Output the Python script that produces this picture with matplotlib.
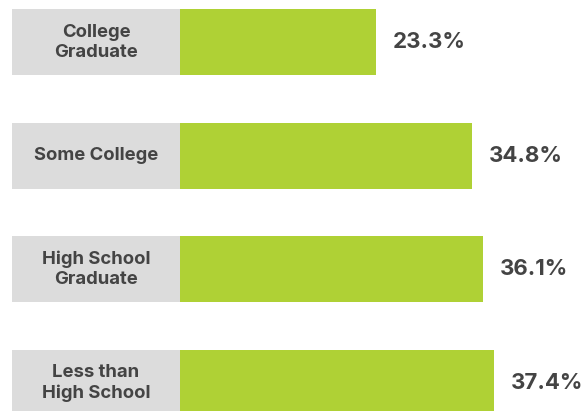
import matplotlib
matplotlib.use("Agg")
import matplotlib.pyplot as plt

# education level vs share
labels = ["College\nGraduate", "Some College", "High School\nGraduate", "Less than\nHigh School"]
values = [23.3, 34.8, 36.1, 37.4]
value_labels = ["23.3%", "34.8%", "36.1%", "37.4%"]

green = "#afd135"
gray = "#dcdcdc"
txt = "#444444"

fig = plt.figure(figsize=(5.86, 4.11), dpi=100)
ax = fig.add_axes([0, 0, 1, 1])

pos = range(len(values))
box = 20.0  # width of the grey label box in data units
ax.barh(pos, [box] * len(values), left=-box, height=0.581, color=gray)
ax.barh(pos, values, height=0.581, color=green)

for i in pos:
    ax.text(-box / 2, i, labels[i], ha="center", va="center", fontsize=13.3,
            fontweight="bold", color=txt, family="Inter", linespacing=1.25)
    ax.annotate(value_labels[i], (values[i], i), xytext=(12, 0), textcoords="offset points",
                ha="left", va="center", fontsize=16, fontweight="bold", color=txt,
                family="Inter")

ax.set_xlim(-21.43, 48.33)
ax.set_ylim(3.2465, -0.3715)
ax.axis("off")

fig.savefig("out.png", dpi=100)
